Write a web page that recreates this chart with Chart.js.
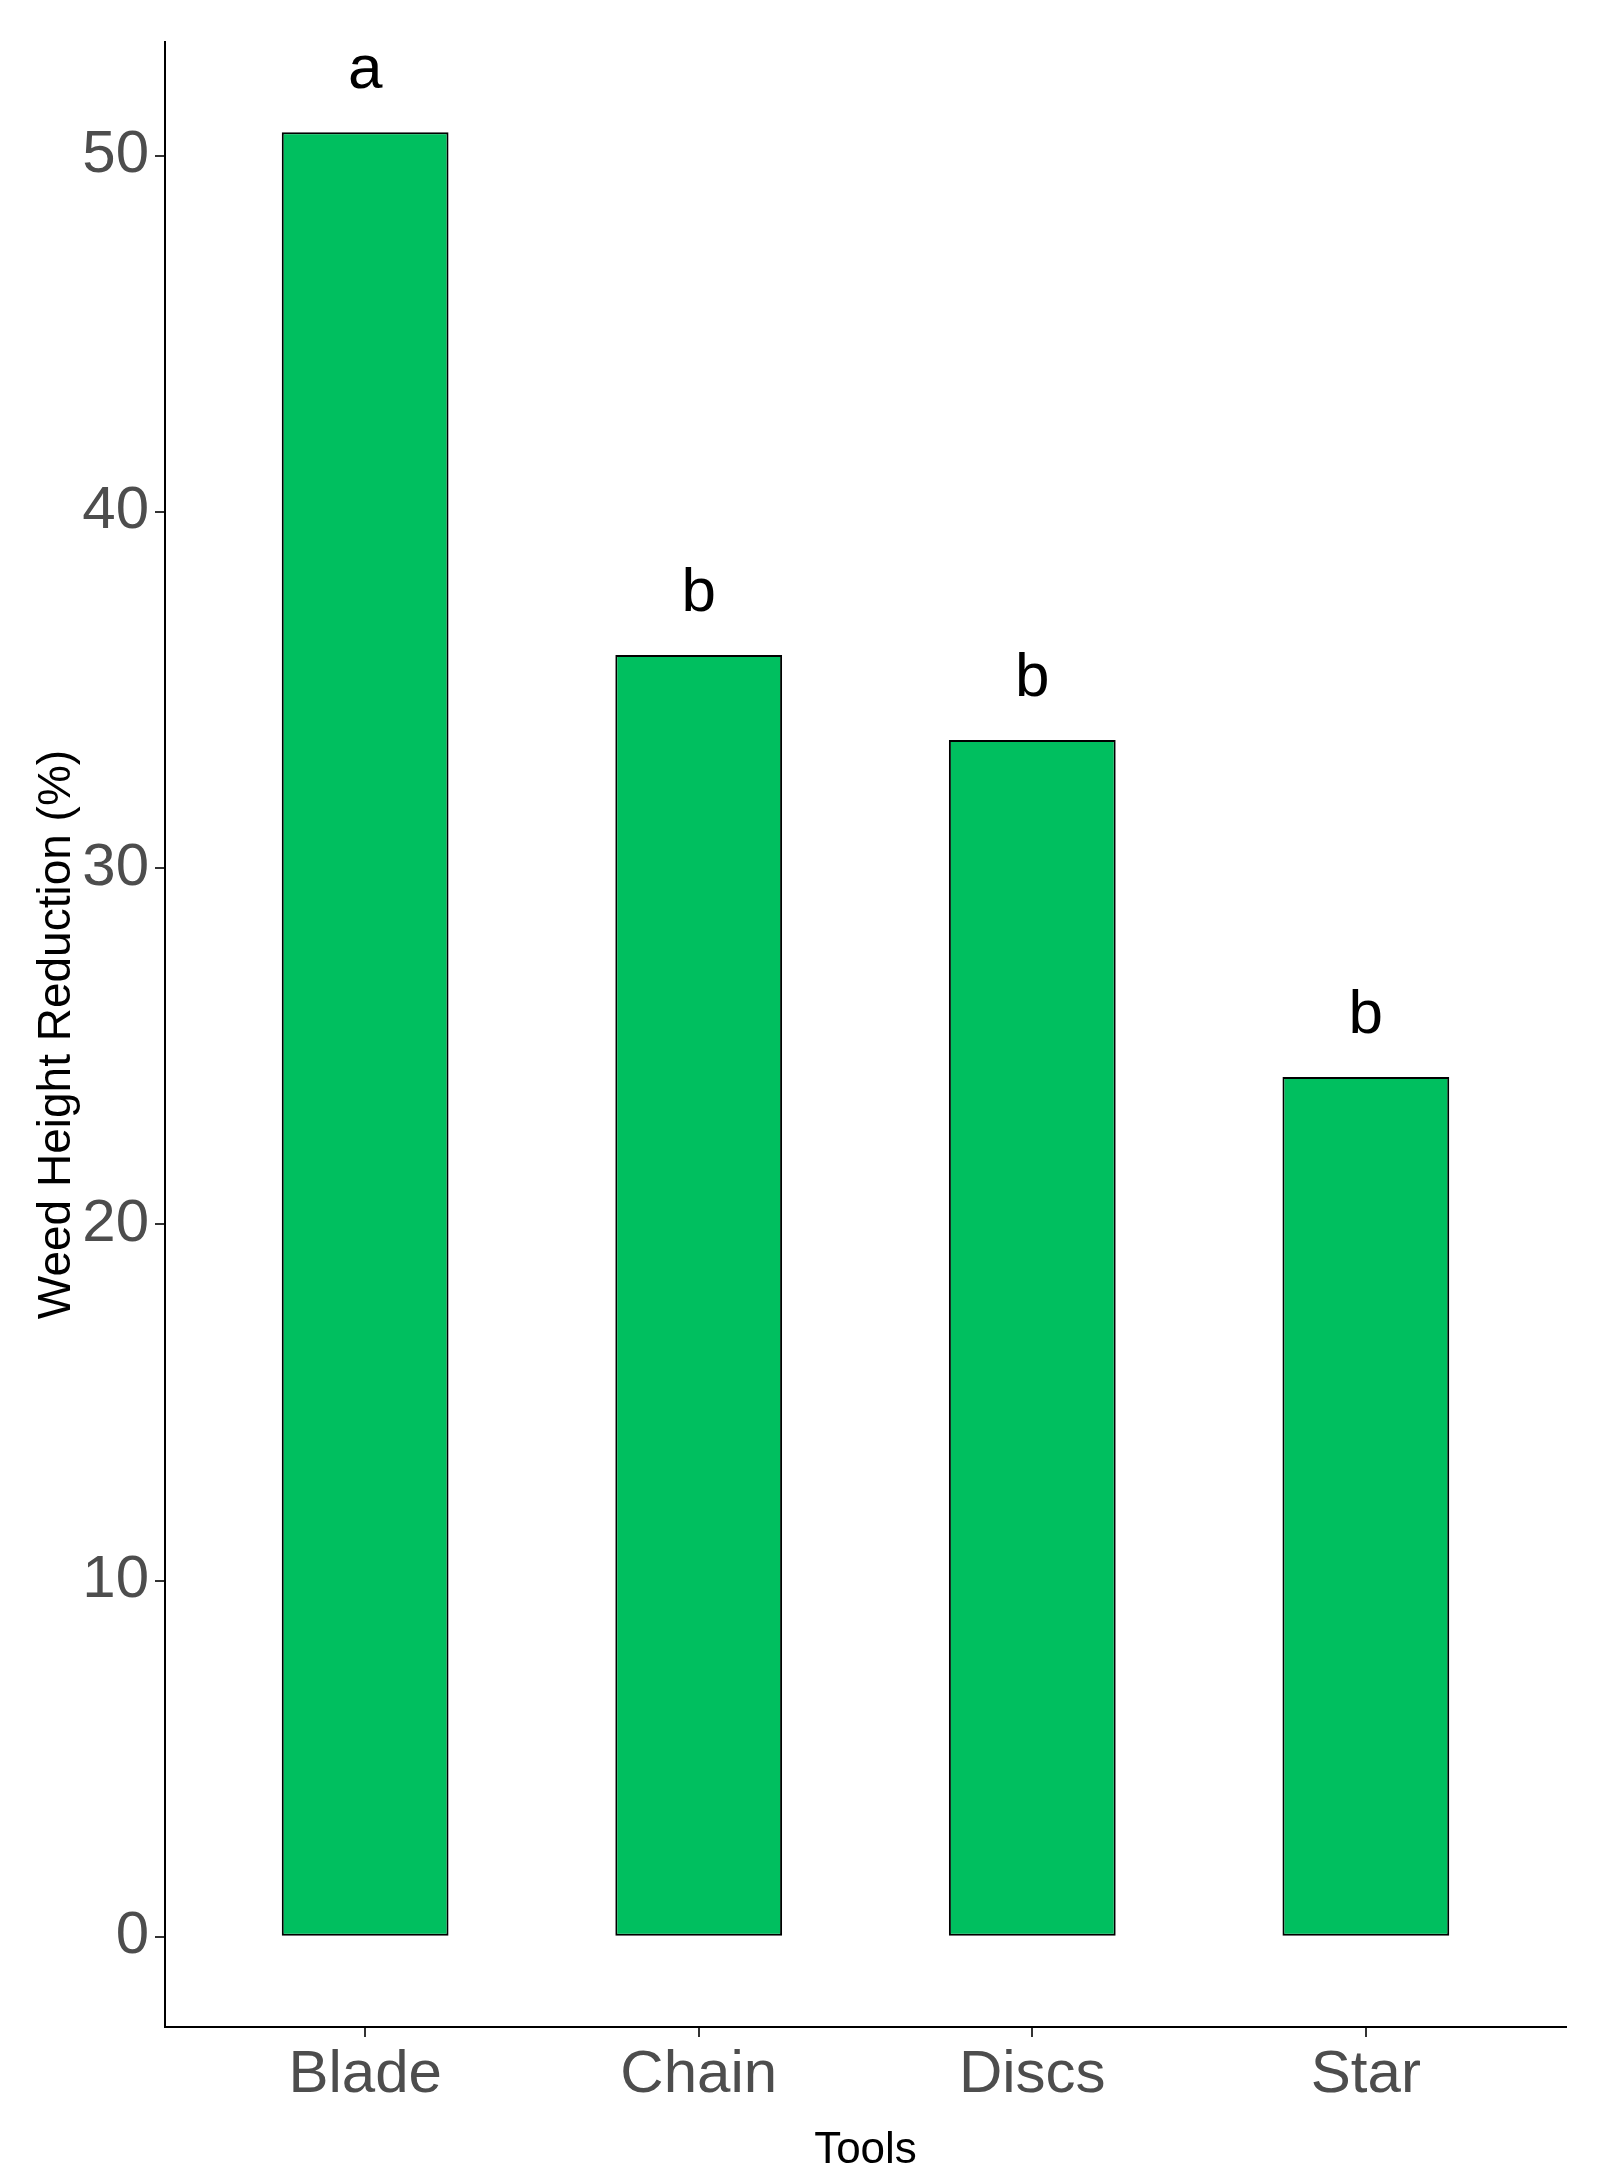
<!DOCTYPE html>
<html>
<head>
<script src="https://cdn.jsdelivr.net/npm/chart.js@4"></script>
<style>
  html, body { margin: 0; padding: 0; background: #fff; }
  #wrap { width: 1610px; height: 2181px; }
</style>
</head>
<body>
<div id="wrap"><canvas id="chart"></canvas></div>
<script>
// Data
const tools = ['Blade', 'Chain', 'Discs', 'Star'];
const reduction = [50.66, 35.98, 33.6, 24.14];
const letters = ['a', 'b', 'b', 'b'];
const yTicks = [0, 10, 20, 30, 40, 50];

const FONT = "'Liberation Sans', Arial, sans-serif";

// letters above the bars
const letterPlugin = {
    id: 'letters',
    afterDatasetsDraw(chart) {
        const ctx = chart.ctx;
        const meta = chart.getDatasetMeta(0);
        ctx.save();
        ctx.fillStyle = '#000';
        ctx.font = '62px ' + FONT;
        ctx.textAlign = 'center';
        ctx.textBaseline = 'bottom';
        meta.data.forEach((bar, i) => {
            ctx.fillText(letters[i], bar.x, bar.y - 30);
        });
        ctx.restore();
    }
};

const ctx = document.getElementById('chart').getContext('2d');
new Chart(ctx, {
    type: 'bar',
    data: {
        datasets: [{
            data: tools.map((t, i) => ({ x: i + 1, y: reduction[i] })),
            backgroundColor: '#00bf5f',
            borderColor: '#000',
            borderWidth: 2,
            borderSkipped: false,
            barPercentage: 0.5,
            categoryPercentage: 1
        }]
    },
    options: {
        responsive: true,
        maintainAspectRatio: false,
        animation: false,
        layout: { padding: { top: 42, right: 44, left: 0, bottom: 0 } },
        plugins: { legend: { display: false }, tooltip: { enabled: false } },
        scales: {
            x: {
                type: 'linear',
                offset: false,
                min: 0.4,
                max: 4.6,
                afterBuildTicks: axis => { axis.ticks = tools.map((t, i) => ({ value: i + 1 })); },
                afterFit: axis => { axis.height = 154; },
                grid: { display: true, offset: false, drawOnChartArea: false, drawTicks: true, tickLength: 10, color: '#333', lineWidth: 2 },
                border: { display: true, color: '#000', width: 2 },
                ticks: {
                    callback: v => tools[v - 1],
                    color: '#4d4d4d',
                    font: { family: FONT, size: 60 },
                    padding: 2,
                    maxRotation: 0
                },
                title: { display: true, text: 'Tools', color: '#000', font: { family: FONT, size: 44 }, padding: { top: 0 } }
            },
            y: {
                min: -2.53,
                max: 53.19,
                afterBuildTicks: axis => { axis.ticks = yTicks.map(v => ({ value: v })); },
                afterFit: axis => { axis.width = 165; },
                grid: { display: true, drawOnChartArea: false, drawTicks: true, tickLength: 10, color: '#333', lineWidth: 2 },
                border: { display: true, color: '#000', width: 2 },
                ticks: {
                    color: '#4d4d4d',
                    font: { family: FONT, size: 60 },
                    padding: 6
                },
                title: { display: true, text: 'Weed Height Reduction (%)', color: '#000', font: { family: FONT, size: 46 }, padding: { top: 30, bottom: 4 } }
            }
        }
    },
    plugins: [letterPlugin]
});
</script>
</body>
</html>
